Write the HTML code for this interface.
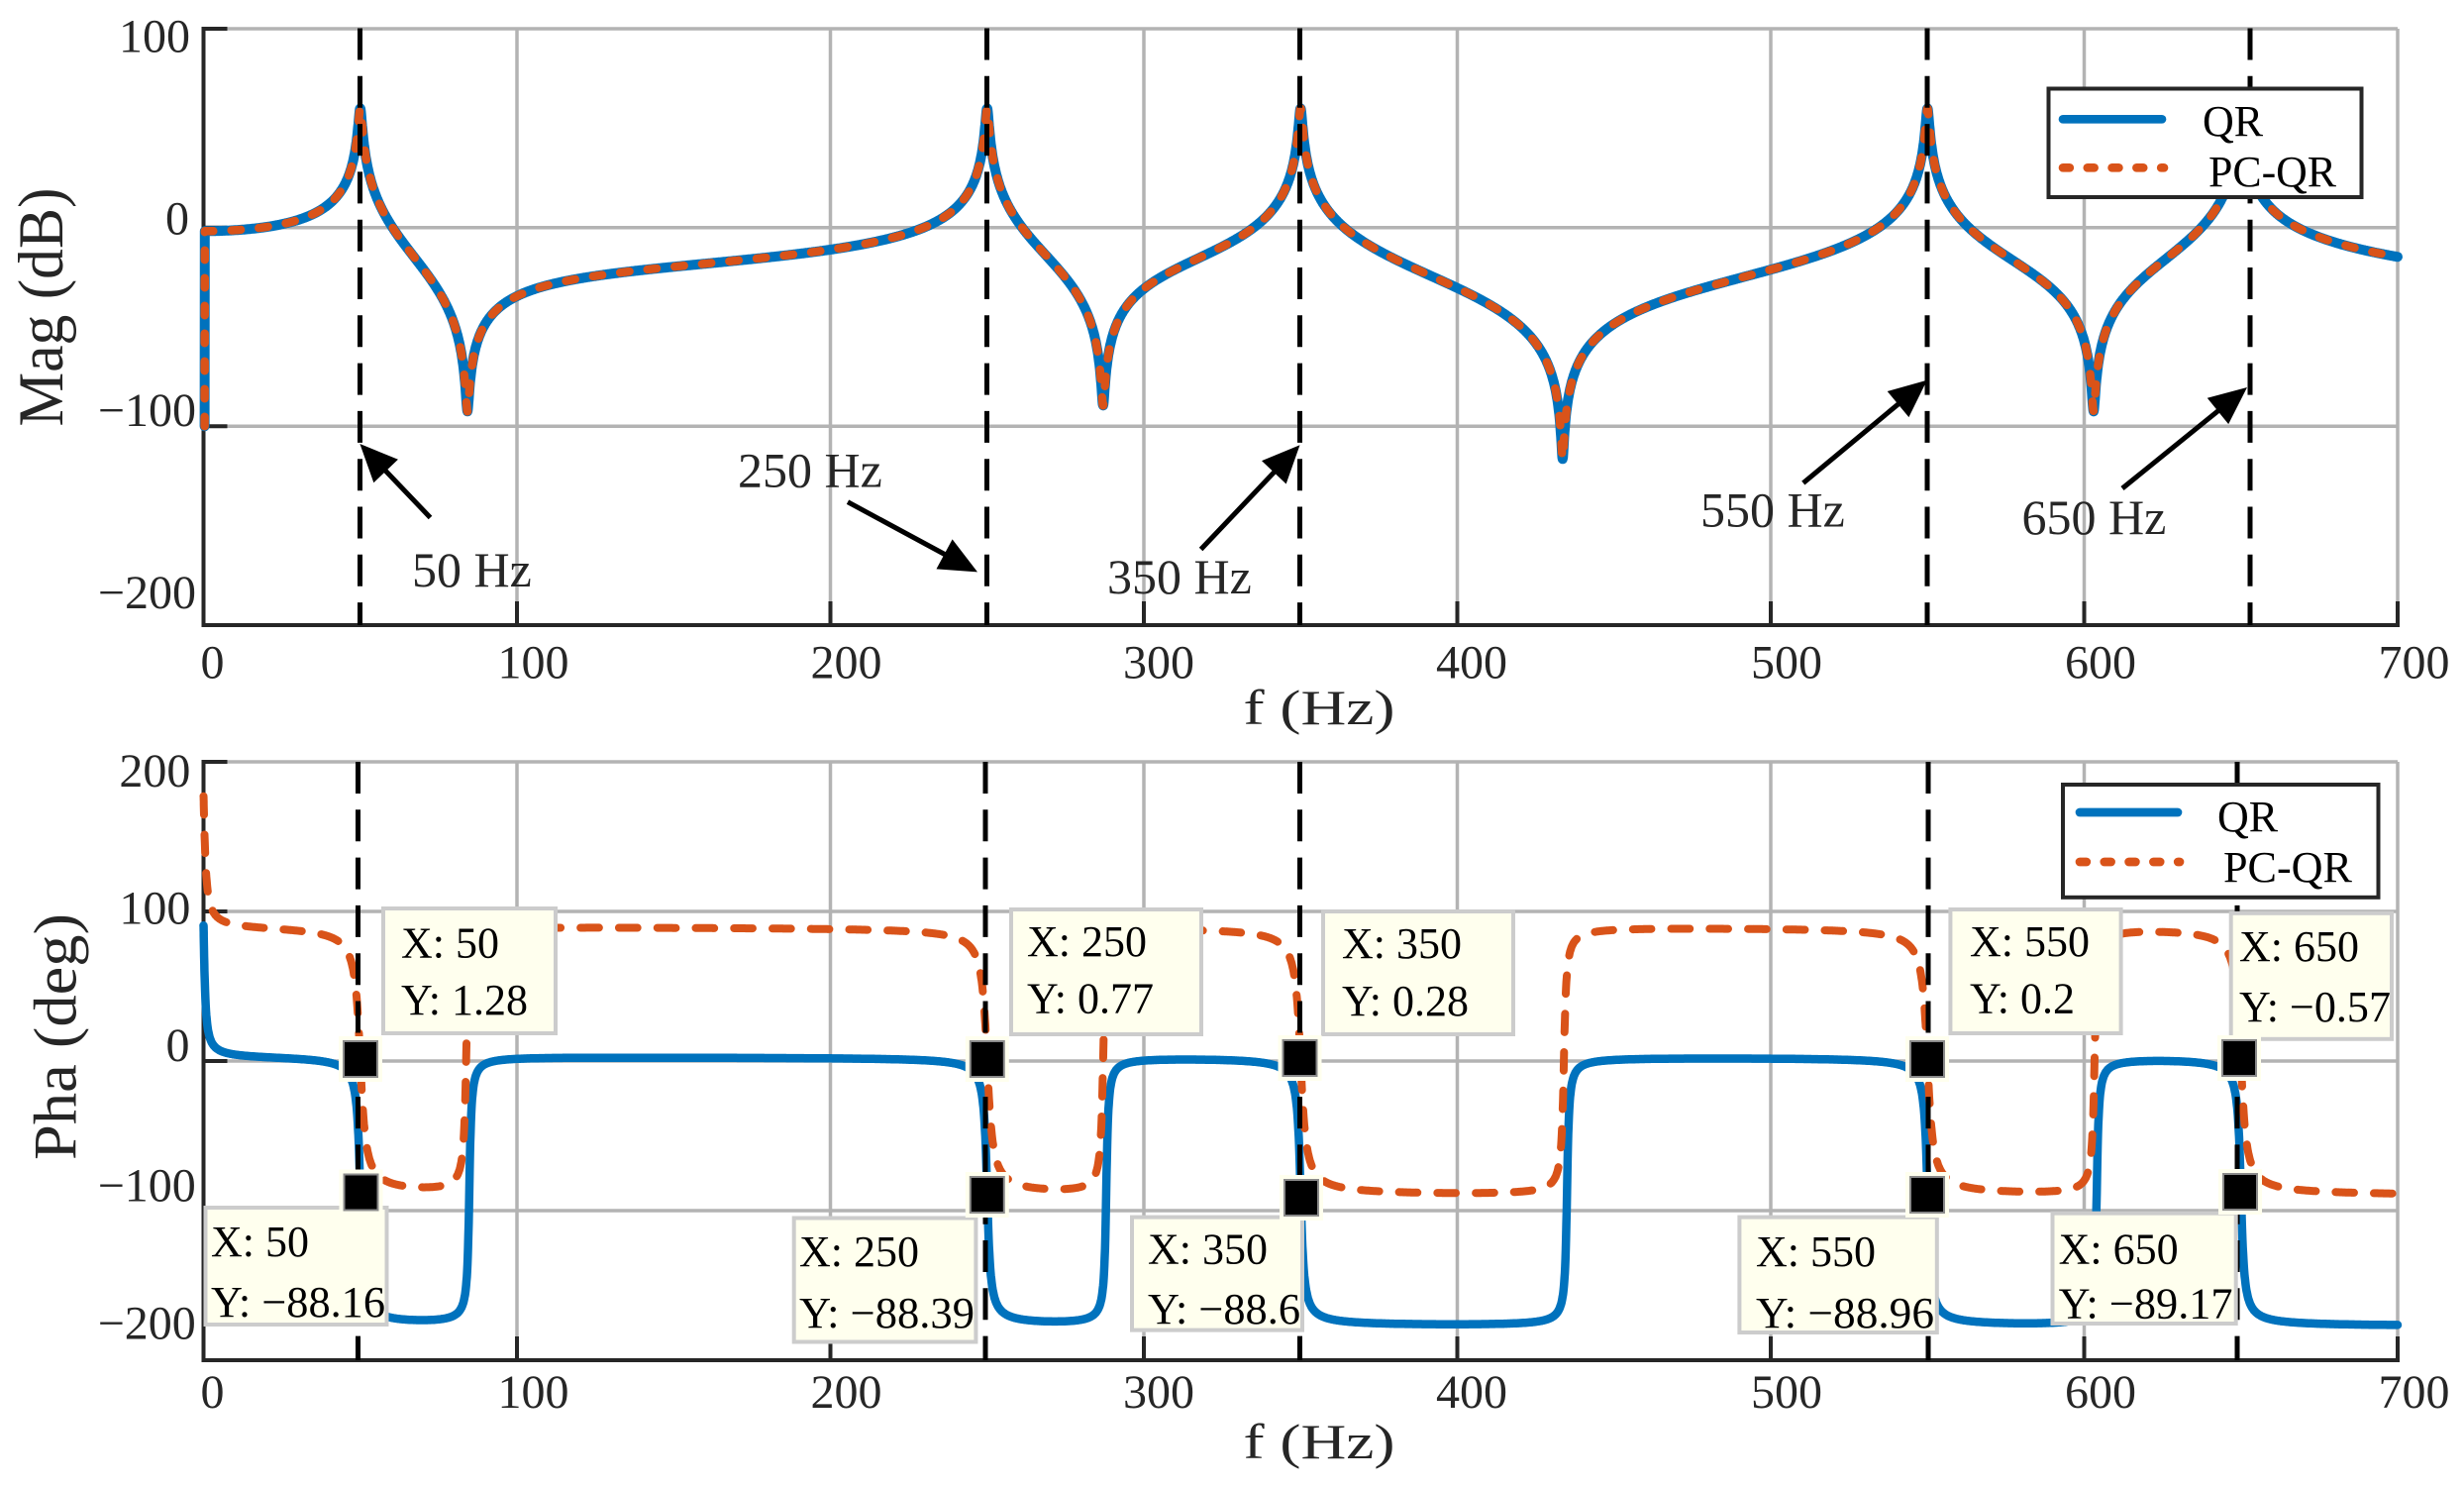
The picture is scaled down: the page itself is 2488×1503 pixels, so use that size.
<!DOCTYPE html>
<html><head><meta charset="utf-8">
<style>
html,body{margin:0;padding:0;background:#fff;}
svg{display:block;}
text{font-family:"Liberation Serif","DejaVu Serif",serif;}
</style></head>
<body>
<svg id="s" width="2488" height="1503" viewBox="0 0 2488 1503" xmlns="http://www.w3.org/2000/svg">
<rect width="2488" height="1503" fill="#fff"/>

<!-- ===== GRIDS ===== -->
<g stroke="#b3b3b3" stroke-width="3.5" fill="none">
  <line x1="205.5" y1="29" x2="2421" y2="29"/>
  <line x1="205.5" y1="229.7" x2="2421" y2="229.7"/>
  <line x1="205.5" y1="430.3" x2="2421" y2="430.3"/>
  <line x1="522" y1="29" x2="522" y2="631"/>
  <line x1="838.5" y1="29" x2="838.5" y2="631"/>
  <line x1="1155" y1="29" x2="1155" y2="631"/>
  <line x1="1471.5" y1="29" x2="1471.5" y2="631"/>
  <line x1="1788" y1="29" x2="1788" y2="631"/>
  <line x1="2104.5" y1="29" x2="2104.5" y2="631"/>
  <line x1="2421" y1="29" x2="2421" y2="631"/>

  <line x1="205.5" y1="769" x2="2421" y2="769"/>
  <line x1="205.5" y1="920" x2="2421" y2="920"/>
  <line x1="205.5" y1="1071" x2="2421" y2="1071"/>
  <line x1="205.5" y1="1222" x2="2421" y2="1222"/>
  <line x1="522" y1="769" x2="522" y2="1373"/>
  <line x1="838.5" y1="769" x2="838.5" y2="1373"/>
  <line x1="1155" y1="769" x2="1155" y2="1373"/>
  <line x1="1471.5" y1="769" x2="1471.5" y2="1373"/>
  <line x1="1788" y1="769" x2="1788" y2="1373"/>
  <line x1="2104.5" y1="769" x2="2104.5" y2="1373"/>
  <line x1="2421" y1="769" x2="2421" y2="1373"/>
</g>

<!-- ===== AXES ===== -->
<g stroke="#262626" stroke-width="4" fill="none">
  <line x1="205.5" y1="27" x2="205.5" y2="633"/>
  <line x1="203.5" y1="631" x2="2423" y2="631"/>
  <line x1="205.5" y1="29" x2="229.5" y2="29"/>
  <line x1="205.5" y1="229.7" x2="229.5" y2="229.7"/>
  <line x1="205.5" y1="430.3" x2="229.5" y2="430.3"/>
  <line x1="522" y1="631" x2="522" y2="607"/>
  <line x1="838.5" y1="631" x2="838.5" y2="607"/>
  <line x1="1155" y1="631" x2="1155" y2="607"/>
  <line x1="1471.5" y1="631" x2="1471.5" y2="607"/>
  <line x1="1788" y1="631" x2="1788" y2="607"/>
  <line x1="2104.5" y1="631" x2="2104.5" y2="607"/>
  <line x1="2421" y1="633" x2="2421" y2="607"/>

  <line x1="205.5" y1="767" x2="205.5" y2="1375"/>
  <line x1="203.5" y1="1373" x2="2423" y2="1373"/>
  <line x1="205.5" y1="769" x2="229.5" y2="769"/>
  <line x1="205.5" y1="920" x2="229.5" y2="920"/>
  <line x1="205.5" y1="1071" x2="229.5" y2="1071"/>
  <line x1="205.5" y1="1222" x2="229.5" y2="1222"/>
  <line x1="522" y1="1373" x2="522" y2="1349"/>
  <line x1="838.5" y1="1373" x2="838.5" y2="1349"/>
  <line x1="1155" y1="1373" x2="1155" y2="1349"/>
  <line x1="1471.5" y1="1373" x2="1471.5" y2="1349"/>
  <line x1="1788" y1="1373" x2="1788" y2="1349"/>
  <line x1="2104.5" y1="1373" x2="2104.5" y2="1349"/>
  <line x1="2421" y1="1375" x2="2421" y2="1349"/>
</g>

<!-- ===== TICK LABELS ===== -->
<g font-size="48" fill="#262626">
  <text x="192" y="52.6" text-anchor="end">100</text>
  <text x="191" y="236.6" text-anchor="end">0</text>
  <text x="198" y="430" text-anchor="end">−100</text>
  <text x="198" y="614" text-anchor="end">−200</text>

  <text x="192.4" y="794" text-anchor="end">200</text>
  <text x="192.4" y="932.4" text-anchor="end">100</text>
  <text x="191.5" y="1071" text-anchor="end">0</text>
  <text x="197.8" y="1212.6" text-anchor="end">−100</text>
  <text x="197.8" y="1351.7" text-anchor="end">−200</text>
</g>
<g font-size="48" fill="#262626" text-anchor="middle">
  <text x="214.5" y="684.5">0</text>
  <text x="538.5" y="684.5">100</text>
  <text x="854.5" y="684.5">200</text>
  <text x="1170" y="684.5">300</text>
  <text x="1486" y="684.5">400</text>
  <text x="1804" y="684.5">500</text>
  <text x="2121" y="684.5">600</text>
  <text x="2437.5" y="684.5">700</text>

  <text x="214.5" y="1421">0</text>
  <text x="538.5" y="1421">100</text>
  <text x="854.5" y="1421">200</text>
  <text x="1170" y="1421">300</text>
  <text x="1486" y="1421">400</text>
  <text x="1804" y="1421">500</text>
  <text x="2121" y="1421">600</text>
  <text x="2437.5" y="1421">700</text>
</g>

<!-- ===== AXIS LABELS ===== -->
<g fill="#262626">
  <text x="1332" y="731" font-size="50" text-anchor="middle" textLength="153" lengthAdjust="spacingAndGlyphs">f (Hz)</text>
  <text x="1332" y="1472" font-size="50" text-anchor="middle" textLength="153" lengthAdjust="spacingAndGlyphs">f (Hz)</text>
  <text transform="translate(63,310) rotate(-90)" font-size="65" text-anchor="middle" textLength="241" lengthAdjust="spacingAndGlyphs">Mag (dB)</text>
  <text transform="translate(76.6,1046.5) rotate(-90)" font-size="61" text-anchor="middle" textLength="249" lengthAdjust="spacingAndGlyphs">Pha (deg)</text>
</g>

<!-- ===== CURVES (filled by script) ===== -->
<g id="curves" fill="none" stroke-linejoin="round">
  <path id="magB" stroke="#0072BD" stroke-width="10" stroke-linecap="round"/>
  <path id="magO" stroke="#D95319" stroke-width="8.5" stroke-linecap="round" stroke-dasharray="9.5 18.5"/>
  <path id="phB" stroke="#0072BD" stroke-width="8.5" stroke-linecap="round"/>
  <path id="phO" stroke="#D95319" stroke-width="8" stroke-linecap="round" stroke-dasharray="18.7 20.1"/>
</g>

<!-- ===== VERTICAL DASHED LINES ===== -->
<g stroke="#000" stroke-width="5" stroke-dasharray="32 16.3" fill="none">
  <line x1="363.5" y1="28.5" x2="363.5" y2="631"/>
  <line x1="996.5" y1="28.5" x2="996.5" y2="631"/>
  <line x1="1312.5" y1="28.5" x2="1312.5" y2="631"/>
  <line x1="1946" y1="28.5" x2="1946" y2="631"/>
  <line x1="2272" y1="28.5" x2="2272" y2="631"/>

  <line x1="361.5" y1="769" x2="361.5" y2="1373"/>
  <line x1="995" y1="769" x2="995" y2="1373"/>
  <line x1="1312.5" y1="769" x2="1312.5" y2="1373"/>
  <line x1="1947" y1="769" x2="1947" y2="1373"/>
  <line x1="2259" y1="769" x2="2259" y2="1373"/>
</g>

<!-- ===== ARROWS (heads by script) ===== -->
<g id="arrows" stroke="#000" stroke-width="5" fill="#000"></g>

<!-- ===== ANNOTATION TEXT ===== -->
<g font-size="50" fill="#262626">
  <text x="416" y="592">50 Hz</text>
  <text x="745" y="491.4">250 Hz</text>
  <text x="1118" y="599">350 Hz</text>
  <text x="1717" y="531.5">550 Hz</text>
  <text x="2041.5" y="539">650 Hz</text>
</g>

<!-- ===== LEGENDS ===== -->
<g>
  <rect x="2068.5" y="89.5" width="316" height="109.5" fill="#fff" stroke="#262626" stroke-width="4"/>
  <line x1="2083" y1="120.3" x2="2183" y2="120.3" stroke="#0072BD" stroke-width="8.7" stroke-linecap="round"/>
  <line x1="2083" y1="169.3" x2="2185" y2="169.3" stroke="#D95319" stroke-width="8.7" stroke-linecap="round" stroke-dasharray="6.8 18"/>
  <text x="2224" y="137" font-size="44" fill="#000">QR</text>
  <text x="2230" y="188" font-size="44" fill="#000" textLength="129" lengthAdjust="spacingAndGlyphs">PC-QR</text>

  <rect x="2083" y="792" width="318.5" height="113.8" fill="#fff" stroke="#262626" stroke-width="4"/>
  <line x1="2100" y1="820" x2="2199" y2="820" stroke="#0072BD" stroke-width="8.7" stroke-linecap="round"/>
  <line x1="2100" y1="870" x2="2201" y2="870" stroke="#D95319" stroke-width="8.7" stroke-linecap="round" stroke-dasharray="6.8 18"/>
  <text x="2239" y="839" font-size="44" fill="#000">QR</text>
  <text x="2245" y="890" font-size="44" fill="#000" textLength="130" lengthAdjust="spacingAndGlyphs">PC-QR</text>
</g>

<!-- ===== DATATIPS ===== -->
<g stroke="#cccccc" stroke-width="4" fill="#ffffee">
  <rect x="387" y="917" width="174" height="126"/>
  <rect x="207.5" y="1219" width="183" height="118"/>
  <rect x="1021" y="918" width="192" height="126"/>
  <rect x="1336" y="920" width="192" height="124"/>
  <rect x="801.7" y="1229.5" width="183.7" height="125"/>
  <rect x="1143" y="1228.6" width="172" height="114"/>
  <rect x="1969.4" y="918" width="172.2" height="125"/>
  <rect x="2252.7" y="921.8" width="162.3" height="127"/>
  <rect x="1756.4" y="1228.6" width="199.4" height="116.4"/>
  <rect x="2072.5" y="1224.7" width="185.2" height="111.3"/>
</g>
<g font-size="44" fill="#000">
  <text x="405" y="966.7">X: 50</text><text x="405" y="1024">Y: 1.28</text>
  <text x="213" y="1268">X: 50</text><text x="213" y="1329" textLength="176" lengthAdjust="spacingAndGlyphs">Y: −88.16</text>
  <text x="1037" y="965">X: 250</text><text x="1037" y="1022.6">Y: 0.77</text>
  <text x="1355" y="967">X: 350</text><text x="1355" y="1025">Y: 0.28</text>
  <text x="807" y="1278">X: 250</text><text x="807" y="1340" textLength="177" lengthAdjust="spacingAndGlyphs">Y: −88.39</text>
  <text x="1159" y="1275.6">X: 350</text><text x="1159" y="1336" textLength="154" lengthAdjust="spacingAndGlyphs">Y: −88.6</text>
  <text x="1989" y="965">X: 550</text><text x="1989" y="1022.6">Y: 0.2</text>
  <text x="2261" y="970">X: 650</text><text x="2261" y="1031" textLength="153" lengthAdjust="spacingAndGlyphs">Y: −0.57</text>
  <text x="1773" y="1278">X: 550</text><text x="1773" y="1340" textLength="180" lengthAdjust="spacingAndGlyphs">Y: −88.96</text>
  <text x="2078.6" y="1275.6">X: 650</text><text x="2078.6" y="1330.4" textLength="176" lengthAdjust="spacingAndGlyphs">Y: −89.17</text>
</g>
<g id="markers"></g>

<script>
(function(){
var NS="http://www.w3.org/2000/svg";
var X0=205.5, XS=(2421-205.5)/700;
function X(f){return X0+f*XS;}
function YT(db){return 229.67-db*2.0067;}
function YB(d){return 1071-d*1.51;}

/* ---------- magnitude model ---------- */
var poles=[50,250,350,550,650];
var zeros=[84.2,287,433.6,603];
var dips=[-92.5,-89.5,-116.4,-92.5];
var K=Math.pow(10,-1.8/40);
function absT(f,c,d){var r=f/c;var a=1-r*r,b=d*r;return Math.sqrt(a*a+b*b);}
var dp=[],dz=[];
poles.forEach(function(p,i){var R=K;zeros.forEach(function(z){R*=absT(p,z,0);});poles.forEach(function(q,j){if(j!==i)R/=absT(p,q,0);});dp[i]=R/Math.pow(10,60/40);});
zeros.forEach(function(z,i){var R=K;zeros.forEach(function(w,j){if(j!==i)R*=absT(z,w,0);});poles.forEach(function(q){R/=absT(z,q,0);});dz[i]=Math.pow(10,dips[i]/40)/R;});
function magdB(f){var m=K;zeros.forEach(function(z,i){m*=absT(f,z,dz[i]);});poles.forEach(function(p,i){m/=absT(f,p,dp[i]);});return 40*Math.log(m)/Math.LN10;}

var fs=[];
for(var i=4;i<=7000;i++)fs.push(i/10);
poles.concat(zeros).forEach(function(v){fs.push(v);});
fs.sort(function(a,b){return a-b;});

var d="M"+X(0.35).toFixed(1)+" "+YT(-100).toFixed(1);
fs.forEach(function(f){var v=magdB(f);if(v<-125)v=-125;d+="L"+X(f).toFixed(1)+" "+YT(v).toFixed(1);});
document.getElementById("magB").setAttribute("d",d);
document.getElementById("magO").setAttribute("d",d);

/* ---------- phase model ---------- */
var R2D=180/Math.PI;
function T(f,c,w){return 90+Math.atan((f-c)/w)*R2D;}
var zB=[84.8,288,435,604], zO=[83.8,287,434,603.3];
function phB(f){var p=2.5+Math.atan(0.5/f)*R2D;poles.forEach(function(c){p-=T(f,c,0.8);});zB.forEach(function(c){p+=T(f,c,0.5);});return p;}
function phO(f){var p=89.5+Math.atan(0.65/f)*R2D;poles.forEach(function(c){p-=T(f,c,1.3);});zO.forEach(function(c){p+=T(f,c,0.6);});return p;}
var fp=[0.01,0.02,0.03,0.05,0.07,0.1,0.13,0.16,0.2,0.25,0.3,0.35];
for(var k=4;k<=7000;k++)fp.push(k/10);
var db="",dO="";
fp.forEach(function(f,idx){var c=idx?"L":"M";db+=c+X(f).toFixed(1)+" "+YB(phB(f)).toFixed(1);dO+=c+X(f).toFixed(1)+" "+YB(phO(f)).toFixed(1);});
document.getElementById("phB").setAttribute("d",db);
document.getElementById("phO").setAttribute("d",dO);

/* ---------- arrows ---------- */
var ag=document.getElementById("arrows");
function arrow(x1,y1,x2,y2){
  var dx=x2-x1,dy=y2-y1,L=Math.sqrt(dx*dx+dy*dy),ux=dx/L,uy=dy/L,nx=-uy,ny=ux;
  var H=38,W=17,bx=x2-ux*H,by=y2-uy*H;
  var ln=document.createElementNS(NS,"line");
  ln.setAttribute("x1",x1);ln.setAttribute("y1",y1);ln.setAttribute("x2",bx+ux*4);ln.setAttribute("y2",by+uy*4);
  ag.appendChild(ln);
  var pg=document.createElementNS(NS,"polygon");
  pg.setAttribute("points",x2+","+y2+" "+(bx+nx*W)+","+(by+ny*W)+" "+(bx-nx*W)+","+(by-ny*W));
  pg.setAttribute("stroke","none");
  ag.appendChild(pg);
}
arrow(434.5,522.5,363.4,448);
arrow(856,506.7,987,577.4);
arrow(1212.6,554.5,1312.5,449.3);
arrow(1820.8,487.6,1945.8,383.8);
arrow(2143,493,2269,391);

/* ---------- markers ---------- */
var mg=document.getElementById("markers");
[[364,1069],[364.5,1203.5],[996.8,1069],[996.8,1206],[1312.5,1068],[1314,1209],[1946,1069],[1946,1206],[2261,1068],[2262,1203]].forEach(function(m){
  var o=document.createElementNS(NS,"rect");
  o.setAttribute("x",m[0]-22);o.setAttribute("y",m[1]-23);o.setAttribute("width",44);o.setAttribute("height",46);o.setAttribute("fill","#ffffee");
  mg.appendChild(o);
  var r=document.createElementNS(NS,"rect");
  r.setAttribute("x",m[0]-17);r.setAttribute("y",m[1]-18);r.setAttribute("width",34);r.setAttribute("height",36);
  r.setAttribute("fill","#000");r.setAttribute("stroke","#8a8a8a");r.setAttribute("stroke-width","2");
  mg.appendChild(r);
});
})();
</script>
</svg>
</body></html>
